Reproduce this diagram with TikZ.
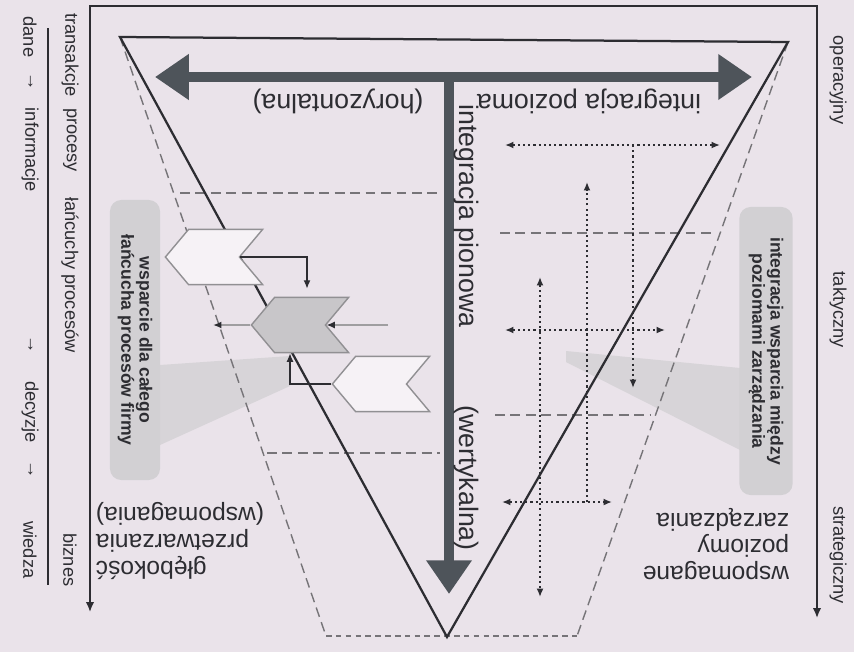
\documentclass[tikz,border=0pt]{standalone}
\usepackage{fontspec}
\setmainfont{Liberation Sans}
\usetikzlibrary{arrows.meta,shapes.symbols,calc}
\definecolor{paper}{RGB}{234,227,234}
\definecolor{ink}{RGB}{45,45,50}
\definecolor{bar}{RGB}{78,84,90}
\definecolor{dash}{RGB}{118,116,120}
\definecolor{boxgrey}{RGB}{210,208,211}
\definecolor{fan}{RGB}{215,212,216}
\definecolor{chevfill}{RGB}{246,242,246}
\definecolor{chevdark}{RGB}{200,198,201}

\begin{document}
\begin{tikzpicture}[x=0.025cm,y=-0.025cm,
    every node/.style={inner sep=0pt, text=ink},
    big/.style={font=\fontsize{19}{22}\selectfont},
    mid/.style={font=\fontsize{17.5}{19}\selectfont},
    side/.style={font=\fontsize{13}{15}\selectfont, rotate=-90},
    greybox/.style={rounded corners=8pt, fill=boxgrey, rotate=-90, align=center,
        font=\fontsize{12.5}{13}\selectfont\bfseries},
    chev/.style={signal, signal to=west, signal from=east, signal pointer angle=100,
        minimum width=2.43cm, minimum height=1.38cm, draw=dash!80, line width=1pt, fill=chevfill},
    bigarrow/.style={draw=bar, line width=7pt, -{Triangle[length=24pt,width=31pt]}},
    levelline/.style={draw=dash, line width=1pt, dash pattern=on 7pt off 4pt},
    dotarrow/.style={draw=ink, line width=1.6pt, dash pattern=on 1.5pt off 2.2pt},
    link/.style={draw=ink, line width=1pt, -{Latex[length=6pt,width=5pt]}},
    glink/.style={draw=dash!70, line width=1.5pt, -{Latex[length=6pt,width=5pt,color=ink]}}
]
    \useasboundingbox (0,0) rectangle (854,652);
    \fill[paper] (0,0) rectangle (854,652);

    % corner points
    \coordinate (tl) at (120,37);
    \coordinate (tr) at (788,42);
    \coordinate (ap) at (447,637);
    \coordinate (bl) at (326,636);
    \coordinate (br) at (577,636);

    % grey fans and boxes
    \fill[fan] (290,356) -- (290,386) -- (160,445) -- (160,365) -- cycle;
    \fill[fan] (566,351) -- (740,368) -- (740,450) -- (566,362) -- cycle;
    \node[greybox, minimum width=7cm, minimum height=1.25cm] (box1) at (135,340)
        {wsparcie dla całego\\łańcucha procesów firmy};
    \node[greybox, minimum width=7.2cm, minimum height=1.33cm] (box2) at (766,351)
        {integracja wsparcia między\\poziomami zarządzania};

    % frame
    \coordinate (lb) at (90,612);
    \coordinate (rt) at (817,6);
    \coordinate (rb) at (817,618);
    \draw[ink, line width=1.2pt, {Latex[length=7pt,width=6pt]}-{Latex[length=7pt,width=6pt]}]
        (lb) |- (rt) -- (rb);
    \draw[ink, line width=0.8pt] (48,28) -- (48,585);

    % levels
    \draw[levelline] (tl) -- (bl);
    \draw[levelline] (tr) -- (br);
    \draw[draw=dash, line width=1pt, dash pattern=on 4pt off 3pt] (bl) -- (br);
    \draw[levelline] (180,193) -- (440,193);
    \draw[levelline] (500,233) -- (712,233);
    \draw[levelline] (267,453) -- (440,453);
    \draw[levelline] (495,415) -- (650,415);

    \draw[ink, line width=1.6pt] (tl) -- (tr) -- (ap) -- cycle;

    % integration arrows
    \coordinate (hL) at (155,77);
    \coordinate (hR) at (752,77);
    \coordinate (vT) at (449,77);
    \coordinate (vB) at (449,594);
    \draw[bigarrow, {Triangle[length=24pt,width=31pt]}-{Triangle[length=24pt,width=31pt]}] (hL) -- (hR);
    \draw[bigarrow] (vT) -- (vB);

    % dotted arrows
    \coordinate (a1l) at (505,145);
    \coordinate (a1r) at (720,145);
    \coordinate (a1j) at (633,145);
    \coordinate (a1e) at (633,388);
    \coordinate (a2t) at (587,182);
    \coordinate (a2b) at (587,502);
    \coordinate (a3l) at (502,502);
    \coordinate (a3r) at (612,502);
    \coordinate (a4t) at (540,277);
    \coordinate (a4b) at (540,597);
    \coordinate (a5l) at (505,330);
    \coordinate (a5r) at (665,330);
    \draw[dotarrow, {Latex[length=6pt,width=5pt]}-{Latex[length=6pt,width=5pt]}] (a1l) -- (a1r);
    \draw[dotarrow, -{Latex[length=6pt,width=5pt]}] (a1j) -- (a1e);
    \draw[dotarrow, -{Latex[length=6pt,width=5pt]}] (a2b) -- (a2t);
    \draw[dotarrow, {Latex[length=6pt,width=5pt]}-{Latex[length=6pt,width=5pt]}] (a3l) -- (a3r);
    \draw[dotarrow, {Latex[length=6pt,width=5pt]}-{Latex[length=6pt,width=5pt]}] (a4t) -- (a4b);
    \draw[dotarrow, {Latex[length=6pt,width=5pt]}-{Latex[length=6pt,width=5pt]}] (a5l) -- (a5r);

    % process chain
    \node[chev] (c1) at (214,257) {};
    \node[chev, fill=chevdark] (c2) at (300,325) {};
    \node[chev] (c3) at (381,384) {};
    \coordinate (gR) at (388,325);
    \coordinate (gL) at (213,325);
    \draw[link] (c1.east) -| ($(c2.north)+(7,-8)$);
    \draw[link] (c3.west) -| ($(c2.south)+(-10,0)$);
    \draw[glink] (gR) -- (c2.east);
    \draw[glink] (c2.west) -- (gL);

    % labels
    \node[big, rotate=180] (hor1) at (589,101) {integracja pozioma};
    \node[big, rotate=180] (hor2) at (338,101) {(horyzontalna)};
    \node[big, rotate=-90] (ver1) at (466,216) {integracja pionowa};
    \node[big, rotate=-90] (ver2) at (466,478) {(wertykalna)};
    \node[mid, rotate=180, align=right] (depth) at (180,541)
        {głębokość\\przetwarzania\\(wspomagania)};
    \node[mid, rotate=180, align=left] (levels) at (716,544)
        {wspomagane\\poziomy\\zarządzania};

    \node[side] (lv1) at (838,80) {operacyjny};
    \node[side] (lv2) at (838,310) {taktyczny};
    \node[side] (lv3) at (838,555) {strategiczny};

    \node[side] (p1) at (70,55) {transakcje};
    \node[side] (p2) at (70,140) {procesy};
    \node[side] (p3) at (70,275) {łańcuchy procesów};
    \node[side] (p4) at (70,560) {biznes};

    \node[side] (d1) at (30,37) {dane};
    \node[side] (d2) at (30,82) {→};
    \node[side] (d3) at (30,150) {informacje};
    \node[side] (d4) at (30,345) {→};
    \node[side] (d5) at (30,412) {decyzje};
    \node[side] (d6) at (30,470) {→};
    \node[side] (d7) at (30,550) {wiedza};
\end{tikzpicture}
\end{document}
